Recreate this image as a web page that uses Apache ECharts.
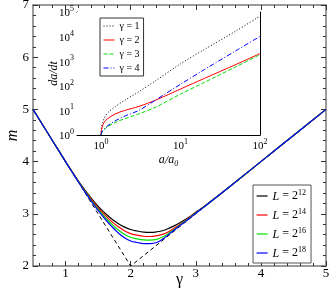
<!DOCTYPE html>
<html><head><meta charset="utf-8">
<script src="https://cdn.jsdelivr.net/npm/echarts@6/dist/echarts.min.js"></script>
<style>html,body{margin:0;padding:0;background:#fff}#c{width:332px;height:293px}</style>
</head><body><div id="c"></div>
<script>
// ---- main panel data: m vs gamma ----
const gammaGrid = [0.5, 0.8, 1.0, 1.1, 1.2, 1.3, 1.4, 1.5, 1.6, 1.7, 1.8, 1.9, 2.0, 2.1, 2.2, 2.3, 2.4, 2.5, 2.6, 2.7, 2.8, 2.9, 3.0, 3.1, 3.2, 3.5, 4.0, 4.5, 5.0];
const mL12 = [5.00, 4.40, 4.00, 3.81, 3.62, 3.45, 3.29, 3.14, 3.02, 2.91, 2.82, 2.75, 2.70, 2.67, 2.65, 2.645, 2.655, 2.68, 2.73, 2.79, 2.86, 2.94, 3.03, 3.115, 3.21, 3.50, 4.00, 4.50, 5.00];
const mL14 = [5.00, 4.40, 4.00, 3.805, 3.615, 3.435, 3.27, 3.115, 2.98, 2.86, 2.76, 2.68, 2.62, 2.59, 2.57, 2.565, 2.58, 2.61, 2.67, 2.75, 2.835, 2.925, 3.02, 3.11, 3.205, 3.50, 4.00, 4.50, 5.00];
const mL16 = [5.00, 4.40, 4.00, 3.80, 3.61, 3.425, 3.25, 3.09, 2.945, 2.815, 2.70, 2.61, 2.55, 2.52, 2.50, 2.495, 2.51, 2.56, 2.64, 2.73, 2.825, 2.915, 3.015, 3.108, 3.203, 3.50, 4.00, 4.50, 5.00];
const mL18 = [5.00, 4.40, 4.00, 3.80, 3.605, 3.415, 3.235, 3.065, 2.91, 2.77, 2.645, 2.545, 2.48, 2.45, 2.43, 2.43, 2.45, 2.52, 2.62, 2.72, 2.815, 2.91, 3.01, 3.105, 3.202, 3.50, 4.00, 4.50, 5.00];
const asymGamma = [0.5, 2.0, 5.0];
const asymM = [5.0, 2.0, 5.0];
const mainNames = ['L12', 'L14', 'L16', 'L18'];
const mainExps = ['12', '14', '16', '18'];
const xTickValues = [1, 2, 3, 4, 5];

// ---- inset data: da/dt vs a/a0 ----
const aRatio = [1, 1.02, 1.05, 1.1, 1.2, 1.5, 2, 3, 5, 10, 20, 50, 100];
const rateG1 = [1, 2.2, 3.2, 4.8, 7.6, 14, 26, 58, 170, 780, 3000, 17000, 68000];
const rateG2 = [1, 1.7, 2.4, 3.3, 4.5, 7.1, 10, 14.5, 27, 74, 200, 740, 2040];
const rateG3 = [1, 1.2, 1.41, 1.66, 2.1, 3.2, 4.6, 7.2, 14.1, 46, 138, 600, 1860];
const rateG4 = [1, 1.26, 1.5, 1.8, 2.3, 3.7, 5.9, 10, 28, 115, 457, 2690, 10200];
const insetNames = ['γ = 1', 'γ = 2', 'γ = 3', 'γ = 4'];
const insetXTicks = [1, 10, 100];

const serif = 'Liberation Serif';
const pair = (xs, ys) => xs.map((x, i) => [x, ys[i]]);
const frame = '#7a7a7a';

function pow10Label(v) {
  const e = Math.round(Math.log10(v));
  if (Math.abs(Math.pow(10, e) - v) > 1e-6 * v) return '';
  return '{b|10}{s|' + e + '}';
}
const powRich = {
  b: {fontFamily: serif, fontSize: 11, color: '#000', lineHeight: 14, verticalAlign: 'bottom'},
  s: {fontFamily: serif, fontSize: 8, color: '#000', lineHeight: 9, verticalAlign: 'top'}
};

const mainColors = ['#000000', '#ff0000', '#00e000', '#0000ff'];
const mainData = [mL12, mL14, mL16, mL18];
const rates = [rateG1, rateG2, rateG3, rateG4];
const insetStyles = [
  {color: '#000', type: [1, 2]},
  {color: '#ff0000', type: 'solid'},
  {color: '#00dd00', type: [4, 2]},
  {color: '#0000ff', type: [5, 2, 1, 2]}
];

const series = [{
  type: 'line', xAxisIndex: 0, yAxisIndex: 0, symbol: 'none',
  data: pair(asymGamma, asymM),
  lineStyle: {color: '#000', width: 1, type: [4, 3]}, z: 2, silent: true
}];
mainData.forEach((d, i) => series.push({
  name: mainNames[i], type: 'line', xAxisIndex: 0, yAxisIndex: 0, symbol: 'none', smooth: 0.4,
  data: pair(gammaGrid, d), lineStyle: {color: mainColors[i], width: 1.2}, itemStyle: {color: mainColors[i]}, z: 3
}));
rates.forEach((d, i) => series.push({
  name: insetNames[i], type: 'line', xAxisIndex: 2, yAxisIndex: 2, symbol: 'none', smooth: 0.3,
  data: pair(aRatio, d), lineStyle: {color: insetStyles[i].color, width: 1, type: insetStyles[i].type},
  itemStyle: {color: insetStyles[i].color}, z: 5
}));

const mainAxisCommon = {
  axisLine: {show: true, lineStyle: {color: frame, width: 1.5}},
  splitLine: {show: false}
};

const option = {
  animation: false,
  backgroundColor: '#fff',
  grid: [
    {left: 33, top: 5, width: 293, height: 261, containLabel: false, outerBoundsMode: 'none'},
    {left: 77, top: 12, width: 183, height: 123, show: true, backgroundColor: '#fff', borderWidth: 0, z: 4, containLabel: false, outerBoundsMode: 'none'}
  ],
  xAxis: [
    Object.assign({
      gridIndex: 0, type: 'value', min: 0.5, max: 5, position: 'bottom',
      name: 'γ', nameLocation: 'middle', nameGap: 6, nameMoveOverlap: false,
      nameTextStyle: {fontFamily: serif, fontSize: 16, color: '#000'},
      axisTick: {show: true, inside: true, length: 5, customValues: xTickValues, lineStyle: {color: '#333'}},
      minorTick: {show: true, splitNumber: 5, length: 3, lineStyle: {color: '#333'}},
      axisLabel: {customValues: xTickValues, fontFamily: serif, fontSize: 13, color: '#000', margin: 1}
    }, mainAxisCommon),
    Object.assign({
      gridIndex: 0, type: 'value', min: 0.5, max: 5, position: 'top',
      axisTick: {show: true, inside: true, length: 5, customValues: xTickValues, lineStyle: {color: '#333'}},
      minorTick: {show: true, splitNumber: 5, length: 3, lineStyle: {color: '#333'}},
      axisLabel: {show: false}
    }, mainAxisCommon),
    {
      gridIndex: 1, type: 'log', min: 0.5, max: 100, position: 'bottom',
      name: '{i|a}/{i|a}{sub|0}', nameLocation: 'middle', nameGap: 19, nameMoveOverlap: false,
      nameTextStyle: {rich: {i: {fontFamily: serif, fontStyle: 'italic', fontSize: 12, color: '#000', lineHeight: 14, verticalAlign: 'top'},
                             sub: {fontFamily: serif, fontSize: 8, color: '#000', lineHeight: 14, verticalAlign: 'bottom'}},
                      fontFamily: serif, fontStyle: 'italic', fontSize: 12, color: '#000'},
      axisLine: {show: true, lineStyle: {color: '#000', width: 1}},
      axisTick: {show: true, inside: true, length: 4, customValues: insetXTicks, lineStyle: {color: '#000'}},
      minorTick: {show: true, splitNumber: 9, length: 2, lineStyle: {color: '#000'}},
      axisLabel: {customValues: insetXTicks, formatter: pow10Label, rich: powRich, margin: 3},
      splitLine: {show: false}
    },
    {
      gridIndex: 1, type: 'log', min: 0.5, max: 100, position: 'top',
      axisLine: {show: true, lineStyle: {color: '#000', width: 1}},
      axisTick: {show: true, inside: true, length: 4, customValues: insetXTicks, lineStyle: {color: '#000'}},
      minorTick: {show: true, splitNumber: 9, length: 2, lineStyle: {color: '#000'}},
      axisLabel: {show: false}, splitLine: {show: false}
    }
  ],
  yAxis: [
    Object.assign({
      gridIndex: 0, type: 'value', min: 2, max: 7, interval: 1, position: 'left',
      name: 'm', nameLocation: 'middle', nameGap: 12, nameMoveOverlap: false,
      nameTextStyle: {fontFamily: serif, fontStyle: 'italic', fontSize: 16, color: '#000'},
      axisTick: {show: true, inside: true, length: 5, lineStyle: {color: '#333'}},
      minorTick: {show: true, splitNumber: 5, length: 3, lineStyle: {color: '#333'}},
      axisLabel: {fontFamily: serif, fontSize: 13, color: '#000', margin: 4}
    }, mainAxisCommon),
    Object.assign({
      gridIndex: 0, type: 'value', min: 2, max: 7, interval: 1, position: 'right',
      axisTick: {show: true, inside: true, length: 5, lineStyle: {color: '#333'}},
      minorTick: {show: true, splitNumber: 5, length: 3, lineStyle: {color: '#333'}},
      axisLabel: {show: false}
    }, mainAxisCommon),
    {
      gridIndex: 1, type: 'log', min: 1, max: 100000, position: 'left',
      name: '{i|da}/{i|dt}', nameLocation: 'middle', nameGap: 17, nameMoveOverlap: false,
      nameTextStyle: {rich: {i: {fontFamily: serif, fontStyle: 'italic', fontSize: 12, color: '#000'}},
                      fontFamily: serif, fontStyle: 'italic', fontSize: 12, color: '#000'},
      axisLine: {show: true, lineStyle: {color: '#000', width: 1}},
      axisTick: {show: true, inside: true, length: 4, lineStyle: {color: '#000'}},
      minorTick: {show: true, splitNumber: 9, length: 2, lineStyle: {color: '#000'}},
      axisLabel: {formatter: pow10Label, rich: powRich, margin: 3},
      splitLine: {show: false}
    },
    {
      gridIndex: 1, type: 'log', min: 1, max: 100000, position: 'right',
      axisLine: {show: true, lineStyle: {color: '#000', width: 1}},
      axisTick: {show: true, inside: true, length: 4, lineStyle: {color: '#000'}},
      minorTick: {show: true, splitNumber: 9, length: 2, lineStyle: {color: '#000'}},
      axisLabel: {show: false}, splitLine: {show: false}
    }
  ],
  legend: [
    {
      data: mainNames, orient: 'vertical', left: 253, top: 185,
      itemWidth: 11, itemHeight: 10, itemGap: 5,
      itemStyle: {opacity: 0}, lineStyle: {width: 1.2},
      padding: [4, 5, 3, 3], borderColor: '#555', borderWidth: 1, backgroundColor: '#fff',
      formatter: name => '{i|L} = 2{s|' + mainExps[mainNames.indexOf(name)] + '}',
      textStyle: {fontFamily: serif, fontSize: 12, color: '#000',
        rich: {i: {fontFamily: serif, fontStyle: 'italic', fontSize: 12, color: '#000', lineHeight: 14, verticalAlign: 'bottom'},
               s: {fontFamily: serif, fontSize: 8, color: '#000', lineHeight: 9, verticalAlign: 'top'}}},
      selectedMode: false
    },
    {
      data: insetNames, orient: 'vertical', left: 100, top: 18,
      itemWidth: 11, itemHeight: 8, itemGap: 4,
      itemStyle: {opacity: 0}, lineStyle: {width: 1},
      padding: [3, 4, 3, 3], borderColor: '#333', borderWidth: 1, backgroundColor: '#fff',
      textStyle: {fontFamily: serif, fontSize: 10, color: '#000'},
      selectedMode: false
    }
  ],
  series: series
};

const chart = echarts.init(document.getElementById('c'), null, {renderer: 'canvas'});
chart.setOption(option);
</script>
</body></html>
